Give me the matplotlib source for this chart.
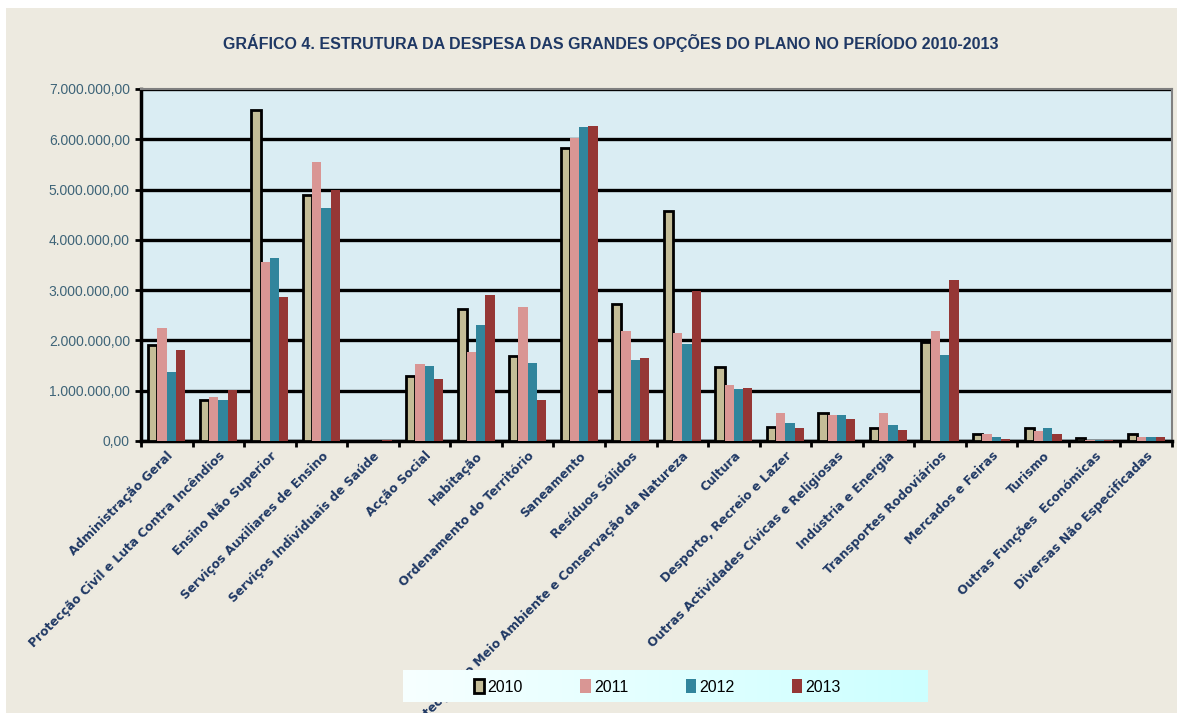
import numpy as np
import matplotlib
matplotlib.use('Agg')
import matplotlib.pyplot as plt
from matplotlib.ticker import FuncFormatter, MultipleLocator
from matplotlib.patches import Rectangle

categorias = ['Administração Geral', 'Protecção Civil e Luta Contra Incêndios',
              'Ensino Não Superior', 'Serviços Auxiliares de Ensino',
              'Serviços Individuais de Saúde', 'Acção Social', 'Habitação',
              'Ordenamento do Território', 'Saneamento', 'Resíduos Sólidos',
              'Protecção do Meio Ambiente e Conservação da Natureza', 'Cultura',
              'Desporto, Recreio e Lazer', 'Outras Actividades Cívicas e Religiosas',
              'Indústria e Energia', 'Transportes Rodoviários', 'Mercados e Feiras',
              'Turismo', 'Outras Funções  Económicas', 'Diversas Não Especificadas']
anos = ['2010', '2011', '2012', '2013']
v2010 = [1910000, 820000, 6580000, 4890000, 0, 1290000, 2630000, 1690000, 5820000, 2720000,
         4570000, 1480000, 280000, 550000, 250000, 1970000, 140000, 250000, 50000, 140000]
v2011 = [2240000, 870000, 3550000, 5550000, 0, 1530000, 1770000, 2660000, 6030000, 2190000,
         2150000, 1110000, 550000, 520000, 550000, 2190000, 130000, 200000, 20000, 70000]
v2012 = [1380000, 820000, 3640000, 4630000, 0, 1500000, 2300000, 1560000, 6240000, 1620000,
         1920000, 1030000, 350000, 520000, 320000, 1710000, 70000, 250000, 20000, 70000]
v2013 = [1800000, 1010000, 2870000, 5000000, 20000, 1230000, 2900000, 820000, 6270000, 1660000,
         2990000, 1050000, 250000, 430000, 220000, 3200000, 30000, 140000, 20000, 70000]

cores = ['#C4BD97', '#D99694', '#31859C', '#953735']
navy = '#1F3864'

fig = plt.figure(figsize=(11.77, 7.13), dpi=100)
fig.patch.set_facecolor('#EDEAE0')
# white margins at top and left
fig.patches.append(Rectangle((0, 0), 6/1177, 1, transform=fig.transFigure,
                             facecolor='white', edgecolor='none', zorder=-5))
fig.patches.append(Rectangle((0, 1 - 8/713), 1, 8/713, transform=fig.transFigure,
                             facecolor='white', edgecolor='none', zorder=-5))

ax = fig.add_axes([141/1177, 1 - 441/713, (1172 - 141)/1177, (441 - 89)/713])
ax.set_facecolor('#DAEDF3')

x = np.arange(len(categorias))
w = 0.18
series = [v2010, v2011, v2012, v2013]
for i, (vals, c) in enumerate(zip(series, cores)):
    if i == 0:
        ax.bar(x + (i - 1.5) * w, vals, w, color=c, edgecolor='black', linewidth=2,
               label=anos[i], zorder=3)
    else:
        ax.bar(x + (i - 1.5) * w, vals, w, color=c, edgecolor='none',
               label=anos[i], zorder=3)

ax.set_xlim(-0.5, len(categorias) - 0.5)
ax.set_ylim(0, 7000000)
ax.yaxis.set_major_locator(MultipleLocator(1000000))
ax.yaxis.set_major_formatter(FuncFormatter(
    lambda v, p: '{:,.2f}'.format(v).replace(',', 'X').replace('.', ',').replace('X', '.')))
ax.grid(axis='y', color='black', linewidth=2.4, zorder=1)
ax.set_axisbelow(True)

ax.set_xticks(x)
ax.set_xticklabels(categorias, rotation=45, ha='right', rotation_mode='anchor',
                   fontsize=8.8, fontweight='bold', color=navy)
ax.tick_params(axis='x', length=0, pad=6)
ax.set_xticks(np.arange(len(categorias) + 1) - 0.5, minor=True)
ax.tick_params(axis='x', which='minor', length=4, width=2, direction='out')
ax.tick_params(axis='y', length=4, width=2, labelsize=10, labelcolor='#3E6478', pad=4)
for t in ax.get_yticklabels():
    t.set_family('Liberation Sans')

for s in ['top', 'right']:
    ax.spines[s].set_color('#808080')
    ax.spines[s].set_linewidth(1.5)
for s in ['left', 'bottom']:
    ax.spines[s].set_color('black')
    ax.spines[s].set_linewidth(2.5)

fig.text(611/1177, 1 - 43/713, 'GRÁFICO 4. ESTRUTURA DA DESPESA DAS GRANDES OPÇÕES DO PLANO NO PERÍODO 2010-2013',
         ha='center', va='center', fontsize=11.5, fontweight='bold', color=navy,
         family='Liberation Sans')

# legend box with light cyan gradient
lax = fig.add_axes([403/1177, 1 - 702/713, 525/1177, 32/713], zorder=9)
grad = np.linspace(0, 1, 256).reshape(1, -1)
lax.imshow(grad, aspect='auto', cmap=matplotlib.colors.LinearSegmentedColormap.from_list(
    'lg', ['#F7FFFF', '#CCFFFF']), extent=(0, 1, 0, 1))
lax.set_axis_off()

h, l = ax.get_legend_handles_labels()
leg = fig.legend(h, l, loc='center left', bbox_to_anchor=(466/1177, 1 - 687/713), ncol=4,
                 frameon=False, prop={'family': 'Liberation Sans', 'size': 11.5},
                 columnspacing=3.6, handlelength=0.65, handleheight=0.9,
                 handletextpad=0.2, borderpad=0)
leg.set_zorder(10)

fig.savefig('out.png', dpi=100, facecolor=fig.get_facecolor())
